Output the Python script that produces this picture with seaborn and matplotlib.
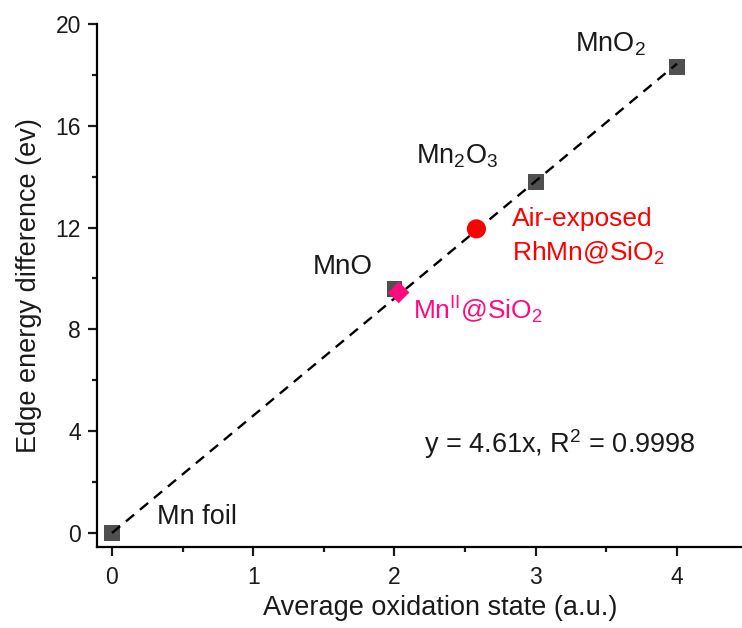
import matplotlib
matplotlib.use("Agg")
import matplotlib.pyplot as plt
import seaborn as sns
import pandas as pd

# Data
ref_names = ["Mn foil", "MnO", "Mn2O3", "MnO2"]
ref_x = [0, 2, 3, 4]
ref_y = [0.0, 9.6, 13.8, 18.3]
air_x = [2.58]
air_y = [11.95]
mn2_x = [2.03]
mn2_y = [9.45]
fit_x = [0, 4]
fit_y = [0.0, 18.44]
xticks = [0, 1, 2, 3, 4]
yticks = [0, 4, 8, 12, 16, 20]

sns.set_theme(style="ticks")
plt.rcParams["font.family"] = ["Liberation Sans", "DejaVu Sans"]
plt.rcParams["mathtext.fontset"] = "custom"
plt.rcParams["mathtext.rm"] = "Liberation Sans"
plt.rcParams["mathtext.it"] = "Liberation Sans:italic"
plt.rcParams["mathtext.bf"] = "Liberation Sans:bold"
for k in ["text.color", "axes.labelcolor", "xtick.color", "ytick.color",
          "xtick.labelcolor", "ytick.labelcolor"]:
    plt.rcParams[k] = "#1a1a1a"

fig = plt.figure(figsize=(7.42, 6.28), dpi=100)
ax = fig.add_axes([0.1307, 0.129, 0.8693, 0.8328])

ref_df = pd.DataFrame({"x": ref_x, "y": ref_y, "name": ref_names})
fit_df = pd.DataFrame({"x": fit_x, "y": fit_y})

sns.lineplot(data=fit_df, x="x", y="y", ax=ax, color="black", lw=1.7,
             dashes=False, zorder=3)
ax.lines[-1].set_dashes((4.5, 3.2))
sns.scatterplot(data=ref_df, x="x", y="y", ax=ax, marker="s", s=130,
                color="#4f4f4f", edgecolor="none", zorder=2)
sns.scatterplot(x=air_x, y=air_y, ax=ax, marker="o", s=190,
                color="#ff0000", edgecolor="none", zorder=4)
sns.scatterplot(x=mn2_x, y=mn2_y, ax=ax, marker="D", s=120,
                color="#ff0a80", edgecolor="none", zorder=4)
ax.lines[0].set_zorder(3)

fs = 19.5
ax.text(0.32, 0.62, "Mn foil", fontsize=fs, ha="left", va="center")
ax.text(1.42, 10.45, "MnO", fontsize=fs + 0.5, ha="left", va="center")
ax.text(2.15, 14.8, r"Mn$_2$O$_3$", fontsize=fs, ha="left", va="center")
ax.text(3.28, 19.2, r"MnO$_2$", fontsize=fs, ha="left", va="center")
ax.text(2.83, 12.35, "Air-exposed", fontsize=19, color="#ff0000",
        ha="left", va="center")
ax.text(2.83, 11.0, r"RhMn@SiO$_2$", fontsize=19, color="#ff0000",
        ha="left", va="center")
ax.text(2.13, 8.75, r"Mn$^{\mathrm{II}}$@SiO$_2$", fontsize=19,
        color="#ff0a80", ha="left", va="center")
ax.text(2.21, 3.5, r"y = 4.61x, R$^2$ = 0.9998", fontsize=fs,
        ha="left", va="center")

ax.set_xlim(-0.106, 4.46)
ax.set_ylim(-0.55, 20)
ax.set_xticks(xticks)
ax.set_yticks(yticks)
ax.set_xticks([0.5, 1.5, 2.5, 3.5], minor=True)
ax.set_yticks([2, 6, 10, 14, 18], minor=True)
ax.tick_params(axis="both", which="major", direction="out", length=6.5,
               width=1.6, labelsize=16.5)
ax.tick_params(axis="both", which="minor", direction="out", length=3.5,
               width=1.6)
ax.tick_params(axis="x", which="major", pad=7)
ax.tick_params(axis="y", which="major", pad=5)

ax.set_xlabel("Average oxidation state (a.u.)", fontsize=19.5)
ax.set_ylabel("Edge energy difference (ev)", fontsize=19.5, labelpad=10)
ax.xaxis.set_label_coords(0.532, -0.092)

sns.despine(ax=ax)
for sp in ["left", "bottom"]:
    ax.spines[sp].set_linewidth(1.6)
    ax.spines[sp].set_color("black")

fig.savefig("out.png", dpi=100)
